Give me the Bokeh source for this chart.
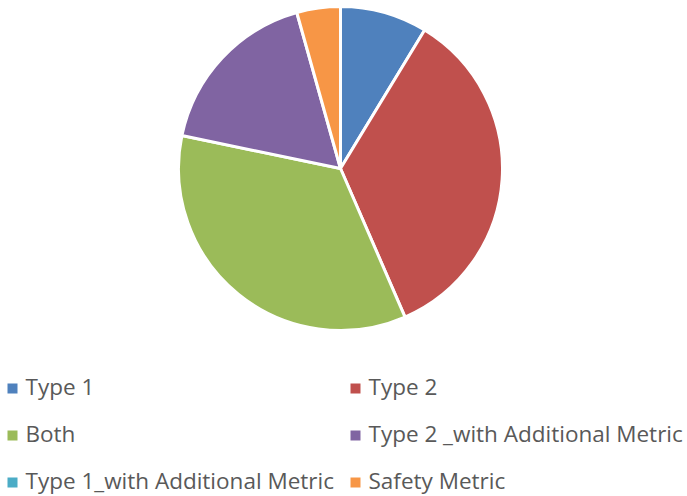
from bokeh.plotting import figure
from bokeh.models import ColumnDataSource, Range1d, CDSView, IndexFilter
from bokeh.core.properties import value
from bokeh.embed import file_html
from bokeh.resources import INLINE
import numpy as np

categories = ["Type 1", "Type 2", "Both", "Type 2 _with Additional Metric",
              "Type 1_with Additional Metric", "Safety Metric"]
counts = [2, 8, 8, 4, 0, 1]
colors = ["#4F81BD", "#C0504D", "#9BBB59", "#8064A2", "#4BACC6", "#F79646"]

W, H = 687, 496
p = figure(width=W, height=H, output_backend="svg", toolbar_location=None,
           x_range=Range1d(0, W), y_range=Range1d(0, H), min_border=0)
p.axis.visible = False
p.grid.visible = False
p.outline_line_color = None

vals = np.array(counts, dtype=float)
frac = vals / vals.sum()
cum = np.concatenate([[0], np.cumsum(frac)])
start = np.pi / 2 - cum[:-1] * 2 * np.pi
end = np.pi / 2 - cum[1:] * 2 * np.pi

cx, cy, r = 340, H - 168, 162
src = ColumnDataSource(dict(start=start, end=end, color=colors, cat=categories))
nonzero = [i for i, v in enumerate(counts) if v > 0]
p.wedge(x=cx, y=cy, radius=r, start_angle="start", end_angle="end",
        direction="clock", fill_color="color", line_color="white", line_width=3,
        source=src, view=CDSView(filter=IndexFilter(nonzero)))

# legend
idx = np.arange(len(categories))
col = idx % 2
row = idx // 2
lx = np.where(col == 0, 12, 355)
ly = H - (388 + row * 47)
lsrc = ColumnDataSource(dict(x=lx, y=ly, tx=lx + 13, ty=ly + 2,
                             color=colors, cat=categories))
p.scatter(x="x", y="y", marker="square", size=10, fill_color="color",
          line_color=None, source=lsrc)
p.text(x="tx", y="ty", text="cat", text_font=value("Open Sans"),
       text_font_size="22.5px", text_color="#595959", text_baseline="middle",
       source=lsrc)

open("out.html", "w").write(file_html(p, INLINE))
